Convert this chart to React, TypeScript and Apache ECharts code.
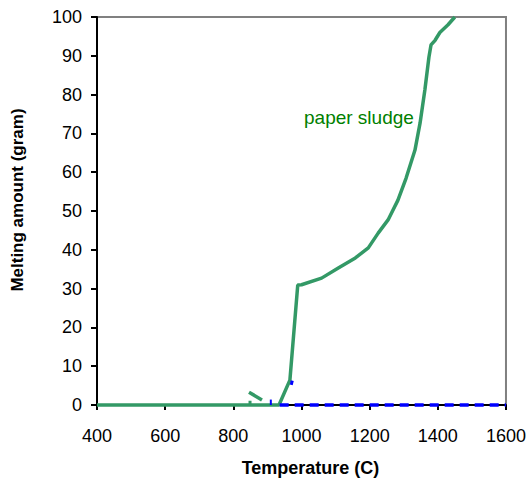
import React, { useEffect, useRef } from "react";
import * as echarts from "echarts";

const xTicks = [400, 600, 800, 1000, 1200, 1400, 1600];
const yTicks = [0, 10, 20, 30, 40, 50, 60, 70, 80, 90, 100];

const sludgeT = [400, 934, 966, 989, 1000, 1059, 1108, 1158, 1196, 1225, 1254, 1283, 1307, 1333, 1348, 1362, 1374, 1380, 1392, 1406, 1430, 1450];
const sludgeV = [0, 0, 6.4, 30.9, 31, 32.7, 35.3, 37.9, 40.5, 44.3, 47.7, 52.8, 58.5, 65.7, 72.7, 81.2, 89.7, 92.8, 94, 96, 98, 100];

const dashT = [846, 884];
const dashV = [3.3, 1.3];
const stubT = [849, 849];
const stubV = [0.2, 1.1];

const blueSpikeT = [910, 910];
const blueSpikeV = [0, 1.4];
const blueFlatT = [936, 1600];
const blueFlatV = [0, 0];
const blueDotT = [970, 973];
const blueDotV = [5.2, 6.3];

const zip = (a: number[], b: number[]) => a.map((v, i) => [v, b[i]]);

export default function App() {
  const ref = useRef<HTMLDivElement>(null);
  useEffect(() => {
    if (!ref.current) return;
    const chart = echarts.init(ref.current, null, { renderer: "svg" });
    const green = "#339966";
    const blue = "#0000ff";
    const font = "Liberation Sans, Arial, sans-serif";
    chart.setOption({
      animation: false,
      backgroundColor: "#ffffff",
      grid: {
        left: 97,
        top: 17,
        right: 19,
        bottom: 78,
        show: true,
        borderColor: "#808080",
        borderWidth: 2,
        backgroundColor: "transparent",
      },
      xAxis: {
        type: "value",
        min: xTicks[0],
        max: xTicks[xTicks.length - 1],
        interval: 200,
        name: "Temperature (C)",
        nameLocation: "middle",
        nameGap: 54,
        nameTextStyle: { fontFamily: font, fontSize: 18, fontWeight: "bold", color: "#000", padding: [0, 0, 0, 18] },
        axisLine: { show: true, onZero: false, lineStyle: { color: "#000", width: 2 } },
        axisTick: { show: true, length: 5, lineStyle: { color: "#000", width: 2 } },
        axisLabel: { margin: 22, fontFamily: font, fontSize: 18, color: "#000", formatter: (v: number) => String(v) },
        splitLine: { show: false },
      },
      yAxis: {
        type: "value",
        min: yTicks[0],
        max: yTicks[yTicks.length - 1],
        interval: 10,
        name: "Melting amount (gram)",
        nameLocation: "middle",
        nameGap: 71,
        nameTextStyle: { fontFamily: font, fontSize: 17, fontWeight: "bold", color: "#000", padding: [0, 0, 0, 22] },
        axisLine: { show: true, onZero: false, lineStyle: { color: "#000", width: 2 } },
        axisTick: { show: true, length: 6, lineStyle: { color: "#000", width: 2 } },
        axisLabel: { margin: 15, fontFamily: font, fontSize: 18, color: "#000" },
        splitLine: { show: false },
      },
      series: [
        {
          type: "line",
          data: zip(blueFlatT, blueFlatV),
          showSymbol: false,
          clip: false,
          lineStyle: { color: blue, width: 3.5, type: [9, 6] },
          z: 3,
        },
        {
          type: "line",
          data: zip(sludgeT, sludgeV),
          showSymbol: false,
          clip: false,
          lineStyle: { color: green, width: 3.5 },
          z: 2,
        },
        {
          type: "line",
          data: zip(dashT, dashV),
          showSymbol: false,
          lineStyle: { color: green, width: 3.5 },
        },
        {
          type: "line",
          data: zip(stubT, stubV),
          showSymbol: false,
          lineStyle: { color: green, width: 3 },
        },
        {
          type: "line",
          data: zip(blueSpikeT, blueSpikeV),
          showSymbol: false,
          clip: false,
          lineStyle: { color: blue, width: 2 },
          z: 4,
        },
        {
          type: "line",
          data: zip(blueDotT, blueDotV),
          showSymbol: false,
          lineStyle: { color: blue, width: 3 },
          z: 4,
        },
      ],
      graphic: [
        {
          type: "text",
          left: 304,
          top: 108,
          style: { text: "paper sludge", fill: "#008000", font: `19px ${font}` },
        },
      ],
    });
    return () => chart.dispose();
  }, []);
  return <div ref={ref} style={{ position: "fixed", left: 0, top: 0, width: 529, height: 483 }} />;
}
